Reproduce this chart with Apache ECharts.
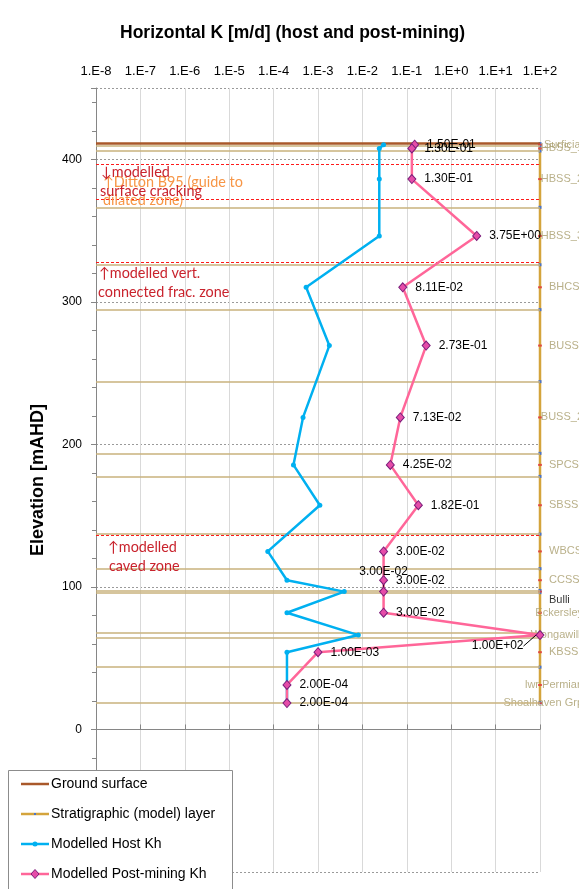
<!DOCTYPE html>
<html>
<head>
<meta charset="utf-8">
<script src="https://cdn.jsdelivr.net/npm/echarts@6/dist/echarts.min.js"></script>
<style>
  html, body { margin: 0; padding: 0; background: #fff; }
  #chart { width: 579px; height: 889px; }
</style>
</head>
<body>
<div id="chart"></div>
<script>
// ---- data ---------------------------------------------------------------
const xTickLabels = ['1.E-8', '1.E-7', '1.E-6', '1.E-5', '1.E-4', '1.E-3', '1.E-2', '1.E-1', '1.E+0', '1.E+1', '1.E+2'];

// model layers (label points sit at the layer mid-elevation, mAHD)
const layerNames = ['Surficial', 'HBSS_1', 'HBSS_2', 'HBSS_3', 'BHCS', 'BUSS', 'BUSS_2', 'SPCS', 'SBSS',
  'WBCS', 'CCSS', 'Bulli', 'Eckersley', 'Wongawilli', 'KBSS', 'lwr Permian', 'Shoalhaven Grp'];
const layerElev = [410.2, 407.6, 386.1, 346.2, 310.2, 269.3, 218.9, 185.6, 157.3,
  124.9, 104.7, 96.7, 81.9, 66.2, 54.2, 31.2, 18.5];

// horizontal hydraulic conductivity per layer [m/d]
const hostKh = [3.0e-2, 2.4e-2, 2.4e-2, 2.4e-2, 5.4e-4, 1.8e-3, 4.6e-4, 2.8e-4, 1.1e-3,
  7.4e-5, 2.0e-4, 3.9e-3, 2.0e-4, 8.1e-3, 2.0e-4, 2.0e-4, 2.0e-4];
const postMiningKh = [1.50e-1, 1.30e-1, 1.30e-1, 3.75e+0, 8.11e-2, 2.73e-1, 7.13e-2, 4.25e-2, 1.82e-1,
  3.00e-2, 3.00e-2, 3.00e-2, 3.00e-2, 1.00e+2, 1.00e-3, 2.00e-4, 2.00e-4];

const groundElev = 411;
const layerBoundaries = [411, 409.3, 405.8, 366.3, 326, 294.5, 244, 193.7, 177.5, 137,
  112.8, 97.5, 96, 67.9, 64.6, 43.7, 18.7];
const stratKx = 1e2;

// modelled zone limits (red dashed)
const zoneElev = [396.8, 372, 328, 136];

// ---- styling ------------------------------------------------------------
const FONT = '"Liberation Sans", Arial, sans-serif';
const NOTE_FONT = 'Lato, "Noto Sans", sans-serif';
const RED = '#c9232d';
const ORANGE = '#f79646';
const C = {
  ground: '#a9582a',
  strat: '#d4a43c',
  stratMark: '#4a74c9',
  layerLine: '#c8b27c',
  host: '#00b0f0',
  post: '#ff6699',
  postFill: '#e64ca8',
  postBorder: '#7a1d7a'
};

const notes = [
  { text: '\u2191Ditton B95 (guide to', elev: 384.1, dx: 7, color: ORANGE },
  { text: 'dilated zone)', elev: 371.2, dx: 7, color: ORANGE },
  { text: '\u2193modelled', elev: 391.1, dx: 5, color: RED },
  { text: 'surface cracking', elev: 377.7, dx: 4, color: RED },
  { text: '\u2191modelled vert.', elev: 319.8, dx: 3, color: RED },
  { text: 'connected frac. zone', elev: 306.9, dx: 2, color: RED },
  { text: '\u2191modelled', elev: 127.9, dx: 12, color: RED },
  { text: 'caved zone', elev: 114.6, dx: 13, color: RED }
];

// layer name labels: vertical nudge where they would collide
const layerLabelNudge = { 'Bulli': 8 };

// Excel-like scientific number text, e.g. 3.75E+00
function sci(v) {
  let e = Math.floor(Math.log10(v) + 1e-9);
  let m = v / Math.pow(10, e);
  if (Number(m.toFixed(2)) >= 10) { e += 1; m = v / Math.pow(10, e); }
  const sign = e < 0 ? '-' : '+';
  return m.toFixed(2) + 'E' + sign + String(Math.abs(e)).padStart(2, '0');
}

const measureCtx = document.createElement('canvas').getContext('2d');
measureCtx.font = '11px ' + FONT;
function textWidth(s) { return measureCtx.measureText(s).width; }

// ---- series data ----------------------------------------------------------
const hostData = hostKh.map((k, i) => [k, layerElev[i]]);

const postData = postMiningKh.map((k, i) => {
  const item = { value: [k, layerElev[i]] };
  if (layerNames[i] === 'Bulli') {
    item.label = { position: 'top', distance: 9 };
    item.labelLine = { show: true, lineStyle: { color: '#000', width: 1 } };
  }
  if (layerNames[i] === 'Wongawilli') {
    item.label = { position: 'left', distance: 12, offset: [0, 11] };
    item.labelLine = { show: true, lineStyle: { color: '#000', width: 1 } };
  }
  return item;
});

const stratData = layerBoundaries.map(b => [stratKx, b]);

const layerLabelData = layerNames.map((n, i) => {
  const w = textWidth(n);
  const left = Math.min(9, 43 - w);
  return {
    name: n,
    value: [stratKx, layerElev[i]],
    label: {
      offset: [left - 2, layerLabelNudge[n] || 0],
      color: n === 'Bulli' ? '#000' : '#a89c6c'
    }
  };
});

// ---- chart ----------------------------------------------------------------
const chart = echarts.init(document.getElementById('chart'), null, { renderer: 'canvas' });

const option = {
  animation: false,
  backgroundColor: '#fff',
  title: {
    text: 'Horizontal K [m/d] (host and post-mining)',
    left: 120,
    top: 24,
    padding: 0,
    textStyle: { fontFamily: FONT, fontSize: 17.5, fontWeight: 'bold', color: '#000' }
  },
  grid: { left: 96, right: 39, top: 88, bottom: 17, containLabel: false, outerBoundsMode: 'none' },
  xAxis: {
    type: 'log',
    logBase: 10,
    min: 1e-8,
    max: 1e2,
    interval: 1,
    splitNumber: 10,
    position: 'top',
    axisLine: { show: true, lineStyle: { color: '#868686', width: 1 } },
    axisTick: { show: true, inside: false, length: 5, lineStyle: { color: '#868686' } },
    axisLabel: {
      color: '#000', fontSize: 13, fontFamily: FONT, margin: 10,
      formatter: v => xTickLabels[Math.round(Math.log10(v)) + 8]
    },
    splitLine: { show: true, lineStyle: { color: '#d9d9d9', width: 1 } },
    minorTick: { show: false },
    minorSplitLine: { show: false }
  },
  yAxis: {
    type: 'value',
    min: -100,
    max: 450,
    interval: 100,
    name: 'Elevation [mAHD]',
    nameLocation: 'middle',
    nameGap: 44,
    nameTextStyle: { fontFamily: FONT, fontSize: 18, fontWeight: 'bold', color: '#000' },
    axisLine: { show: true, onZero: false, lineStyle: { color: '#868686', width: 1 } },
    axisTick: { show: true, length: 5, lineStyle: { color: '#868686' } },
    minorTick: { show: true, splitNumber: 5, length: 4, lineStyle: { color: '#868686' } },
    axisLabel: {
      color: '#000', fontSize: 12, fontFamily: FONT, margin: 14,
      formatter: v => (v % 100 === 0 ? String(v) : '')
    },
    splitLine: { show: true, lineStyle: { color: '#9a9a9a', type: [2, 2], width: 1 } },
    minorSplitLine: { show: false }
  },
  series: [
    {
      name: 'Stratigraphic (model) layer',
      type: 'line',
      data: stratData,
      clip: false,
      z: 2,
      symbol: 'rect',
      symbolSize: 3,
      showAllSymbol: true,
      itemStyle: { color: C.stratMark },
      lineStyle: { color: C.strat, width: 2.5 },
      emphasis: { disabled: true },
      markLine: {
        silent: true,
        symbol: ['none', 'none'],
        label: { show: false },
        lineStyle: { color: C.layerLine, width: 1.5, type: 'solid' },
        data: layerBoundaries.slice(1).map(v => ({ yAxis: v }))
      }
    },
    {
      name: 'Ground surface',
      type: 'line',
      data: [[1e-8, groundElev], [1e2, groundElev]],
      z: 3,
      symbol: 'none',
      lineStyle: { color: C.ground, width: 2.5 },
      emphasis: { disabled: true },
      markLine: {
        silent: true,
        symbol: ['none', 'none'],
        label: { show: false },
        lineStyle: { color: '#ff1a1a', width: 1, type: [3, 2] },
        data: zoneElev.map(v => ({ yAxis: v }))
      }
    },
    {
      name: 'Layer names',
      type: 'scatter',
      data: layerLabelData,
      z: 3,
      symbol: 'rect',
      symbolSize: [4, 2],
      itemStyle: { color: '#e03a3a' },
      clip: false,
      label: {
        show: true,
        position: 'right',
        distance: 0,
        fontFamily: FONT,
        fontSize: 11,
        formatter: p => p.name
      },
      emphasis: { disabled: true }
    },
    {
      name: 'Modelled Host Kh',
      type: 'line',
      data: hostData,
      z: 5,
      symbol: 'circle',
      symbolSize: 5,
      showAllSymbol: true,
      itemStyle: { color: C.host },
      lineStyle: { color: C.host, width: 2.5 },
      emphasis: { disabled: true }
    },
    {
      name: 'Modelled Post-mining Kh',
      type: 'line',
      data: postData,
      z: 6,
      clip: false,
      symbol: 'diamond',
      symbolSize: [8, 9],
      showAllSymbol: true,
      itemStyle: { color: C.postFill, borderColor: C.postBorder, borderWidth: 1 },
      lineStyle: { color: C.post, width: 2.5 },
      label: {
        show: true,
        position: 'right',
        distance: 8,
        fontFamily: FONT,
        fontSize: 12,
        color: '#000',
        formatter: p => sci(p.value[0])
      },
      labelLine: { show: false },
      emphasis: { disabled: true }
    }
  ]
};

chart.setOption(option);

// zone annotations, anchored at elevations
const gridLeft = chart.convertToPixel({ xAxisIndex: 0 }, 1e-8);
const noteGraphics = notes.map(n => ({
  type: 'text',
  x: gridLeft + n.dx,
  y: chart.convertToPixel({ yAxisIndex: 0 }, n.elev),
  z: 10,
  silent: true,
  style: {
    text: n.text,
    fill: n.color,
    font: '14.4px ' + NOTE_FONT,
    verticalAlign: 'middle',
    align: 'left'
  }
}));

// legend box (bottom-left, running off the page edge)
const legendItems = [
  { name: 'Ground surface', line: C.ground, mark: null },
  { name: 'Stratigraphic (model) layer', line: C.strat, mark: 'rect' },
  { name: 'Modelled Host Kh', line: C.host, mark: 'circle' },
  { name: 'Modelled Post-mining Kh', line: C.post, mark: 'diamond' }
];
const LG = { x: 8.5, y: 770.5, w: 224, h: 140, row0: 784, rowGap: 30, lineX1: 21, lineX2: 49, textX: 51 };
const legendGraphics = [{
  type: 'rect', z: 100, silent: true,
  shape: { x: LG.x, y: LG.y, width: LG.w, height: LG.h },
  style: { fill: '#fff', stroke: '#8c8c8c', lineWidth: 1 }
}];
legendItems.forEach((it, i) => {
  const y = LG.row0 + i * LG.rowGap;
  const cx = (LG.lineX1 + LG.lineX2) / 2;
  legendGraphics.push({
    type: 'line', z: 101, silent: true,
    shape: { x1: LG.lineX1, y1: y, x2: LG.lineX2, y2: y },
    style: { stroke: it.line, lineWidth: 2.5 }
  });
  if (it.mark === 'rect') {
    legendGraphics.push({ type: 'rect', z: 102, silent: true,
      shape: { x: cx - 1, y: y - 1, width: 2, height: 2 }, style: { fill: C.stratMark } });
  } else if (it.mark === 'circle') {
    legendGraphics.push({ type: 'circle', z: 102, silent: true,
      shape: { cx: cx, cy: y, r: 2.5 }, style: { fill: C.host } });
  } else if (it.mark === 'diamond') {
    legendGraphics.push({ type: 'polygon', z: 102, silent: true,
      shape: { points: [[cx, y - 4.5], [cx + 4, y], [cx, y + 4.5], [cx - 4, y]] },
      style: { fill: C.postFill, stroke: C.postBorder, lineWidth: 1 } });
  }
  legendGraphics.push({
    type: 'text', z: 102, silent: true, x: LG.textX, y: y,
    style: { text: it.name, fill: '#000', font: '14px ' + FONT, verticalAlign: 'middle', align: 'left' }
  });
});

chart.setOption({ graphic: noteGraphics.concat(legendGraphics) });
</script>
</body>
</html>
